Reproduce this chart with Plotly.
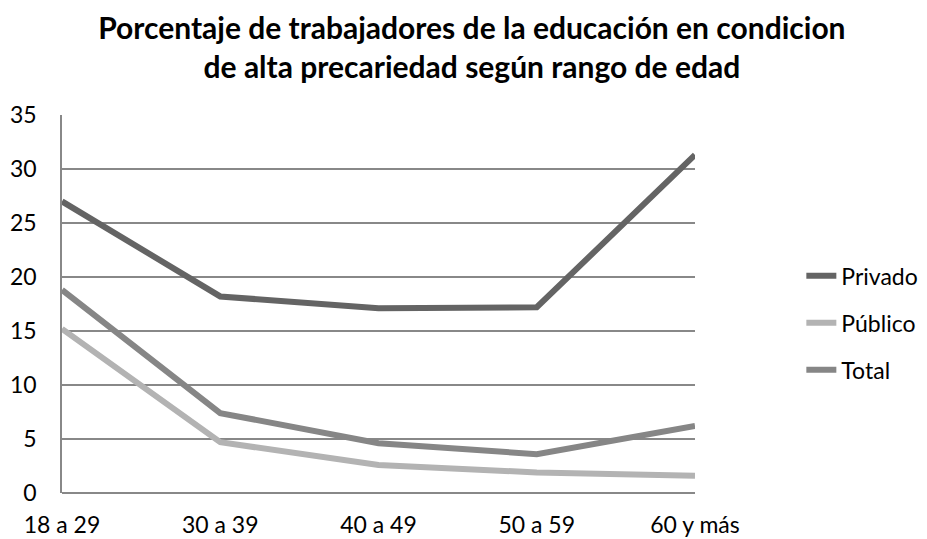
import plotly.graph_objects as go

categorias = ["18 a 29", "30 a 39", "40 a 49", "50 a 59", "60 y más"]
privado = [27.0, 18.2, 17.1, 17.2, 31.3]
publico = [15.2, 4.7, 2.6, 1.9, 1.6]
total = [18.8, 7.4, 4.6, 3.6, 6.2]
y_ticks = [0, 5, 10, 15, 20, 25, 30, 35]

series = [
    ("Privado", privado, "#646464"),
    ("Público", publico, "#b3b3b3"),
    ("Total", total, "#868686"),
]

fig = go.Figure()
for i, (name, vals, color) in enumerate(series):
    fig.add_trace(go.Scatter(
        x=list(range(len(categorias))), y=vals, name=name, mode="lines",
        line=dict(color=color, width=6), legendgroup=str(i),
    ))

FONT = "Lato, Carlito, Calibri, sans-serif"
fig.update_layout(
    width=927, height=539,
    paper_bgcolor="white", plot_bgcolor="white",
    margin=dict(l=54, r=237, t=107, b=54),
    title=dict(
        text="<b>Porcentaje de trabajadores de la educación en condicion<br>de alta precariedad según rango de edad</b>",
        x=0.5004, xanchor="center", y=0.942, yanchor="middle",
        font=dict(family=FONT, size=30, color="black"),
    ),
    font=dict(family=FONT, size=23, color="black"),
    legend=dict(
        x=1.168, xanchor="left", y=0.45, yanchor="middle",
        font=dict(family=FONT, size=23, color="black"),
        traceorder="grouped", tracegroupgap=14,
        bgcolor="rgba(0,0,0,0)",
    ),
    showlegend=True,
)
fig.update_xaxes(
    tickvals=list(range(len(categorias))), ticktext=categorias,
    range=[0, len(categorias) - 1], automargin=False,
    showgrid=False, zeroline=False, showline=False,
    ticks="outside", ticklen=11, tickcolor="rgba(0,0,0,0)",
    tickfont=dict(family=FONT, size=23, color="black"),
)
fig.update_yaxes(
    range=[0, 35], tickvals=y_ticks, automargin=False,
    showgrid=True, gridcolor="#888888", gridwidth=1.5,
    zeroline=True, zerolinecolor="#888888", zerolinewidth=1.5,
    showline=True, linecolor="#888888", linewidth=1.5,
    ticks="outside", ticklen=19, tickcolor="rgba(0,0,0,0)",
    tickfont=dict(family=FONT, size=23, color="black"),
)
fig.write_html("out.html")
